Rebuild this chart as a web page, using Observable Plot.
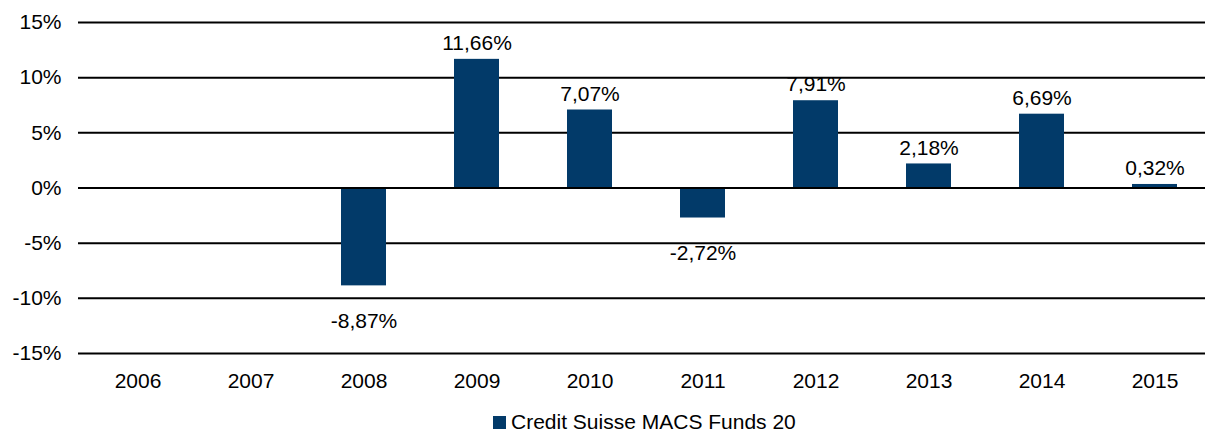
<!DOCTYPE html>
<html>
<head>
<meta charset="utf-8">
<script src="https://cdn.jsdelivr.net/npm/d3@7"></script>
<script src="https://cdn.jsdelivr.net/npm/@observablehq/plot@0.6"></script>
<style>
  html, body { margin: 0; padding: 0; background: #fff; overflow: hidden; width: 1205px; height: 433px; }
  #wrap { position: relative; width: 1205px; height: 433px; overflow: hidden; font-family: "Liberation Sans", Arial, sans-serif; }
  #chart svg { max-width: none !important; }
  #legend { position: absolute; left: 493px; top: 412px; font-size: 21px; line-height: 20px; color: #000; white-space: nowrap; }
  #legend .sw { display: inline-block; width: 13px; height: 13px; background: #023a69; margin-right: 5px; vertical-align: 0px; }
</style>
</head>
<body>
<div id="wrap">
  <div id="chart"></div>
  <div id="legend"><span class="sw"></span><span id="legendText"></span></div>
</div>
<script>
const years = ["2006", "2007", "2008", "2009", "2010", "2011", "2012", "2013", "2014", "2015"];
const returns = [null, null, -8.87, 11.66, 7.07, -2.72, 7.91, 2.18, 6.69, 0.32];
const yTicks = [-15, -10, -5, 0, 5, 10, 15];
const seriesName = "Credit Suisse MACS Funds 20";

document.getElementById("legendText").textContent = seriesName;

const data = years.map((y, i) => ({year: y, value: returns[i]}));
const bars = data.filter(d => d.value != null);
const fmt = v => v.toFixed(2).replace(".", ",") + "%";

const chart = Plot.plot({
  width: 1215,
  height: 410,
  marginLeft: 78,
  marginRight: 0,
  marginTop: 22,
  marginBottom: 57,
  style: {fontFamily: "'Liberation Sans', Arial, sans-serif", fontSize: "21px", color: "#000", background: "#fff", maxWidth: "none"},
  x: {domain: years, paddingInner: 0.6, paddingOuter: 0.3, label: null},
  y: {domain: [-15, 15], ticks: yTicks, label: null},
  marks: [
    Plot.ruleY(yTicks, {stroke: "#000", strokeWidth: 2}),
    Plot.barY(bars, {x: "year", y: "value", fill: "#023a69"}),
    Plot.ruleY([0], {stroke: "#000", strokeWidth: 2}),
    Plot.text(bars.filter(d => d.value >= 0), {x: "year", y: "value", text: d => fmt(d.value), dy: -16, fontSize: 21, fill: "#000"}),
    Plot.text(bars.filter(d => d.value < 0), {x: "year", y: "value", text: d => fmt(d.value), dy: 35, fontSize: 21, fill: "#000"}),
    Plot.axisY({ticks: yTicks, tickSize: 0, tickPadding: 17, tickFormat: d => d + "%", fontSize: 21}),
    Plot.axisX({tickSize: 0, tickPadding: 20, fontSize: 21})
  ]
});
document.getElementById("chart").appendChild(chart);
</script>
</body>
</html>
